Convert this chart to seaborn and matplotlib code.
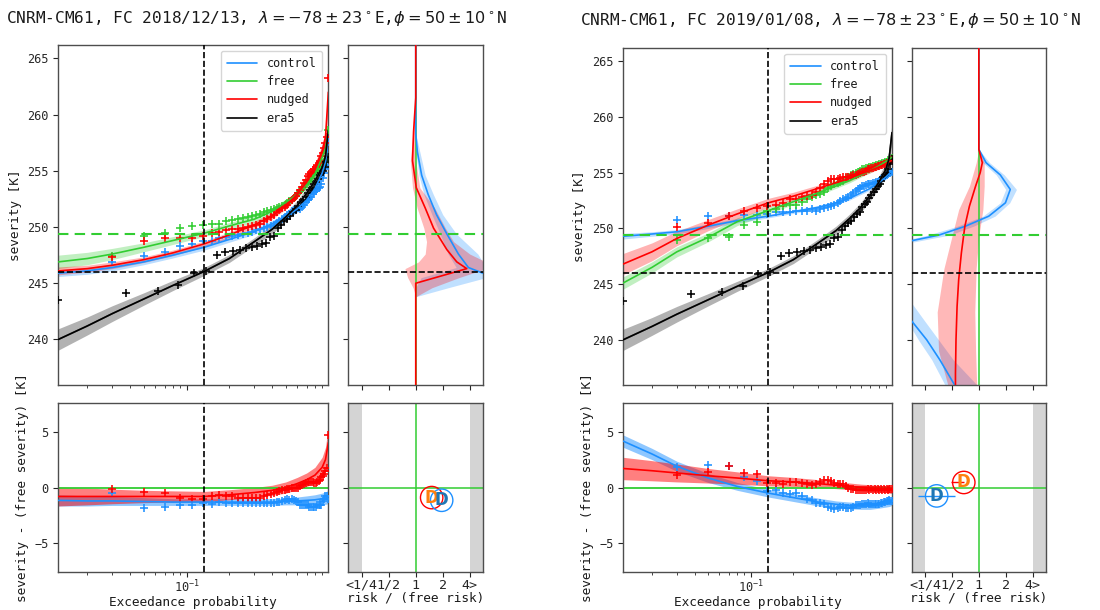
import matplotlib
matplotlib.use("Agg")
import matplotlib.pyplot as plt
import numpy as np
import seaborn as sns

# ---- colours -------------------------------------------------------------
C_CONTROL = "#1e90ff"
C_FREE = "#32cd32"
C_NUDGED = "#ff0000"
C_ERA5 = "#000000"

# ---- shared values --------------------------------------------------------
P_LIM = (0.0125, 0.995)
EVENT_P = 0.133
EVENT_SEV = 246.0
FREE_EVENT_SEV = 249.4
SEV_LIM = (235.95, 266.2)
DIFF_LIM = (-7.55, 7.55)
RR_TICKS = [-2, -1, 0, 1, 2]
RR_LABELS = ["<1/4", "1/2", "1", "2", "4>"]

# plotting positions of the sorted samples
P_MODEL = [0.03, 0.05, 0.07, 0.09, 0.11, 0.13, 0.15, 0.17, 0.19, 0.21,
           0.23, 0.25, 0.27, 0.29, 0.31, 0.33, 0.35, 0.37, 0.39, 0.41,
           0.43, 0.45, 0.47, 0.49, 0.51, 0.53, 0.55, 0.57, 0.59, 0.61,
           0.63, 0.65, 0.67, 0.69, 0.71, 0.73, 0.75, 0.77, 0.79, 0.81,
           0.83, 0.85, 0.87, 0.89, 0.91, 0.93, 0.95, 0.97, 0.99]
P_ERA5 = [0.0125, 0.0375, 0.0625, 0.0875, 0.1125, 0.1375, 0.1625, 0.1875,
          0.2125, 0.2375, 0.2625, 0.2875, 0.3125, 0.3375, 0.3625, 0.3875,
          0.4125, 0.4375, 0.4625, 0.4875, 0.5125, 0.5375, 0.5625, 0.5875,
          0.6125, 0.6375, 0.6625, 0.6875, 0.7125, 0.7375, 0.7625, 0.7875,
          0.8125, 0.8375, 0.8625, 0.8875, 0.9125, 0.9375, 0.9625, 0.9875]
ERA5_PTS = [243.5, 244.1, 244.3, 244.8, 245.9, 246.1, 247.5, 247.8, 247.9, 248.0,
            248.1, 248.2, 248.3, 248.5, 248.6, 249.1, 249.2, 249.9, 250.2, 250.5,
            250.7, 251.0, 251.3, 251.5, 251.9, 252.2, 252.4, 252.7, 253.0, 253.3,
            253.5, 253.8, 254.0, 254.3, 254.6, 254.8, 255.0, 255.3, 255.8, 256.2]

# fitted curves, read on this probability grid
P_GRID = [0.0125, 0.02, 0.03, 0.05, 0.08, 0.133, 0.2, 0.3, 0.4, 0.5,
          0.6, 0.7, 0.8, 0.9, 0.95, 0.995]
ERA5_FIT = [240.0, 241.2, 242.3, 243.6, 244.8, 246.05, 247.2, 248.7, 249.8, 250.9,
            251.9, 253.0, 254.1, 255.3, 256.3, 258.6]
ERA5_HW = [0.95, 0.8, 0.7, 0.55, 0.45, 0.35, 0.35, 0.35, 0.4, 0.4,
           0.45, 0.5, 0.55, 0.6, 0.7, 0.9]

# ---- forecast 2018/12/13 ---------------------------------------------------
L_TITLE = r"CNRM-CM61, FC 2018/12/13, $\lambda=-78\pm23^\circ$E,$\phi=50\pm10^\circ$N"

L_FREE_PTS = [247.4, 249.2, 249.5, 249.9, 250.1, 250.2, 250.3, 250.3, 250.5, 250.6,
              250.7, 250.8, 250.9, 251.0, 251.1, 251.2, 251.3, 251.4, 251.5, 251.6,
              251.7, 251.8, 251.9, 252.0, 252.1, 252.3, 252.4, 252.6, 252.8, 253.0,
              253.2, 253.4, 253.6, 253.8, 254.0, 254.2, 254.4, 254.6, 254.8, 254.9,
              255.0, 255.1, 255.2, 255.4, 255.6, 255.8, 256.0, 256.3, 258.6]
L_NUDGED_PTS = [247.3, 248.8, 249.0, 249.0, 249.05, 249.2, 249.5, 249.6, 249.7, 249.8,
                249.8, 249.9, 250.0, 250.1, 250.2, 250.3, 250.5, 250.7, 250.9, 251.1,
                251.3, 251.5, 251.7, 251.8, 252.0, 252.2, 252.4, 252.6, 252.8, 253.0,
                253.3, 253.6, 253.9, 254.2, 254.5, 254.7, 254.9, 255.1, 255.2, 255.3,
                255.5, 255.7, 255.9, 256.3, 256.6, 257.0, 257.5, 258.0, 263.3]
L_CONTROL_PTS = [246.9, 247.4, 247.8, 248.3, 248.5, 248.8, 248.8, 249.0, 249.1, 249.2,
                 249.3, 249.4, 249.5, 249.6, 249.7, 249.8, 249.9, 250.0, 250.1, 250.2,
                 250.4, 250.5, 250.7, 250.9, 251.1, 251.2, 251.4, 251.5, 251.6, 251.7,
                 251.6, 251.8, 252.0, 252.2, 252.4, 252.5, 252.7, 252.9, 253.1, 253.2,
                 253.4, 253.5, 253.6, 253.8, 254.4, 254.8, 255.2, 255.5, 257.6]

L_FREE_FIT = [246.9, 247.2, 247.6, 248.2, 248.8, 249.45, 250.1, 250.7, 251.4, 252.2,
              252.9, 253.8, 254.7, 256.2, 257.0, 258.6]
L_FREE_HW = [0.6, 0.55, 0.5, 0.4, 0.35, 0.3, 0.3, 0.3, 0.3, 0.3,
             0.3, 0.35, 0.35, 0.4, 0.45, 0.6]
L_NUDGED_FIT = [246.1, 246.3, 246.6, 247.1, 247.7, 248.5, 249.3, 250.2, 251.0, 251.9,
                252.9, 254.0, 255.2, 256.8, 258.0, 262.0]
L_NUDGED_HW = [0.35, 0.3, 0.3, 0.25, 0.25, 0.25, 0.25, 0.3, 0.3, 0.3,
               0.35, 0.4, 0.45, 0.55, 0.7, 1.2]
L_CONTROL_FIT = [245.9, 246.1, 246.4, 246.9, 247.5, 248.2, 248.9, 249.6, 250.3, 250.9,
                 251.6, 252.4, 253.4, 254.8, 255.8, 257.5]
L_CONTROL_HW = [0.3, 0.3, 0.3, 0.25, 0.25, 0.25, 0.25, 0.25, 0.3, 0.3,
                0.3, 0.35, 0.4, 0.5, 0.6, 0.8]

L_NUDGED_DIFF = [-0.8, -0.8, -0.8, -0.8, -0.8, -0.8, -0.65, -0.45, -0.25, 0.0,
                 0.35, 0.7, 1.1, 1.8, 2.5, 4.0]
L_NUDGED_DIFF_HW = [0.85, 0.75, 0.65, 0.55, 0.5, 0.45, 0.45, 0.45, 0.45, 0.5,
                    0.55, 0.6, 0.7, 0.9, 1.1, 1.5]
L_CONTROL_DIFF = [-1.15, -1.2, -1.2, -1.25, -1.3, -1.3, -1.3, -1.3, -1.3, -1.25,
                  -1.2, -1.15, -1.1, -1.0, -0.95, -0.85]
L_CONTROL_DIFF_HW = [0.5, 0.45, 0.4, 0.35, 0.3, 0.3, 0.3, 0.3, 0.3, 0.3,
                     0.35, 0.4, 0.45, 0.5, 0.55, 0.6]

# log2 risk ratio vs severity
L_RR_NUDGED_SEV = [266.2, 261.5, 258.5, 255.9, 253.5, 251.7, 249.9, 248.0, 246.9, 246.3, 245.0, 235.9]
L_RR_NUDGED = [0.0, 0.0, -0.08, -0.12, 0.02, 0.35, 0.66, 1.15, 1.52, 1.89, 0.0, 0.0]
L_RR_NUDGED_BAND_SEV = [261.5, 258.5, 255.9, 253.5, 251.7, 249.9, 248.7, 247.6, 246.9, 246.3, 245.5, 244.6, 243.8]
L_RR_NUDGED_LO = [0.0, -0.1, -0.2, -0.12, 0.05, 0.3, 0.4, 0.35, 0.1, -0.4, -0.3, -0.1, 0.0]
L_RR_NUDGED_HI = [0.0, 0.0, 0.0, 0.15, 0.7, 1.1, 1.4, 2.0, 2.6, 2.6, 1.6, 0.6, 0.0]
L_RR_CONTROL_SEV = [266.2, 258.3, 256.7, 254.6, 252.9, 251.1, 249.4, 247.6, 246.4, 245.6]
L_RR_CONTROL = [0.0, 0.0, 0.06, 0.22, 0.46, 0.77, 1.15, 1.58, 1.95, 2.8]
L_RR_CONTROL_BAND_SEV = [258.3, 256.7, 254.6, 252.9, 251.1, 249.4, 247.6, 246.4, 245.5, 244.6, 243.8]
L_RR_CONTROL_LO = [0.0, 0.0, 0.12, 0.3, 0.6, 0.9, 1.2, 1.5, 0.2, 0.0, 0.0]
L_RR_CONTROL_HI = [0.0, 0.15, 0.35, 0.65, 1.0, 1.5, 2.3, 2.6, 2.6, 1.2, 0.0]

# risk ratio / severity difference at the event
L_EVT_RR = {"nudged": 0.59, "control": 0.96}
L_EVT_DIFF = {"nudged": -0.90, "control": -1.14}
L_EVT_RR_ERR = {"nudged": (0.0, 0.0), "control": (0.0, 0.0)}

# ---- forecast 2019/01/08 ---------------------------------------------------
R_TITLE = r"CNRM-CM61, FC 2019/01/08, $\lambda=-78\pm23^\circ$E,$\phi=50\pm10^\circ$N"

R_FREE_PTS = [249.0, 249.1, 249.2, 250.3, 250.6, 251.6, 251.7, 252.0, 252.1, 252.1,
              252.4, 252.6, 252.8, 253.0, 253.1, 253.3, 253.6, 253.8, 254.0, 254.1,
              254.2, 254.3, 254.5, 254.6, 254.8, 254.9, 255.0, 255.1, 255.2, 255.3,
              255.3, 255.4, 255.4, 255.5, 255.5, 255.6, 255.6, 255.7, 255.7, 255.8,
              255.8, 255.9, 255.9, 256.0, 256.0, 256.1, 256.1, 256.2, 256.3]
R_NUDGED_PTS = [250.1, 250.5, 251.1, 251.6, 251.8, 252.0, 252.1, 252.3, 252.6, 252.6,
                252.8, 252.9, 253.0, 253.3, 253.6, 254.0, 254.3, 254.4, 254.4, 254.4,
                254.5, 254.6, 254.6, 254.6, 254.7, 254.8, 254.8, 254.9, 255.0, 255.1,
                255.1, 255.2, 255.3, 255.3, 255.4, 255.4, 255.5, 255.5, 255.6, 255.6,
                255.7, 255.7, 255.8, 255.8, 255.9, 255.9, 256.0, 256.1, 256.2]
R_CONTROL_PTS = [250.8, 251.1, 251.1, 251.2, 251.2, 251.3, 251.5, 251.5, 251.5, 251.6,
                 251.6, 251.6, 251.7, 251.6, 251.7, 251.8, 251.9, 252.0, 252.1, 252.3,
                 252.5, 252.6, 252.7, 252.8, 253.0, 253.2, 253.4, 253.5, 253.6, 253.8,
                 253.8, 253.9, 254.0, 254.0, 254.0, 254.1, 254.1, 254.2, 254.2, 254.3,
                 254.4, 254.5, 254.6, 254.7, 254.8, 254.9, 255.0, 255.0, 255.1]

R_FREE_FIT = [245.1, 246.5, 247.9, 249.2, 250.6, 251.6, 252.4, 253.2, 253.8, 254.3,
              254.8, 255.2, 255.6, 256.0, 256.2, 256.4]
R_FREE_HW = [0.55, 0.5, 0.45, 0.4, 0.35, 0.3, 0.25, 0.25, 0.2, 0.2,
             0.2, 0.2, 0.2, 0.2, 0.25, 0.3]
R_NUDGED_FIT = [246.8, 247.9, 249.1, 250.3, 251.3, 252.3, 252.9, 253.6, 254.1, 254.5,
                254.9, 255.2, 255.5, 255.8, 256.0, 256.1]
R_NUDGED_HW = [0.95, 0.8, 0.65, 0.5, 0.45, 0.4, 0.35, 0.3, 0.25, 0.25,
               0.2, 0.2, 0.2, 0.2, 0.2, 0.25]
R_CONTROL_FIT = [249.3, 249.5, 249.7, 250.2, 250.7, 251.1, 251.5, 251.9, 252.3, 252.7,
                 253.2, 253.6, 254.1, 254.6, 254.9, 255.2]
R_CONTROL_HW = [0.25, 0.2, 0.2, 0.2, 0.2, 0.15, 0.15, 0.15, 0.15, 0.15,
                0.15, 0.15, 0.2, 0.2, 0.2, 0.25]

R_NUDGED_DIFF = [1.7, 1.5, 1.3, 1.05, 0.85, 0.6, 0.5, 0.35, 0.2, 0.1,
                 0.0, -0.05, -0.1, -0.15, -0.2, -0.25]
R_NUDGED_DIFF_HW = [1.0, 0.9, 0.8, 0.65, 0.55, 0.45, 0.4, 0.35, 0.3, 0.3,
                    0.3, 0.3, 0.3, 0.3, 0.3, 0.3]
R_CONTROL_DIFF = [4.15, 3.0, 1.9, 0.85, 0.1, -0.5, -0.9, -1.3, -1.5, -1.6,
                  -1.65, -1.65, -1.55, -1.45, -1.4, -1.3]
R_CONTROL_DIFF_HW = [0.55, 0.5, 0.45, 0.4, 0.35, 0.35, 0.35, 0.35, 0.3, 0.3,
                     0.3, 0.3, 0.3, 0.3, 0.3, 0.3]

R_RR_NUDGED_SEV = [266.2, 257.1, 255.9, 255.0, 253.8, 252.0, 250.2, 247.8, 245.4, 243.0, 240.0, 237.0, 235.9]
R_RR_NUDGED = [0.0, 0.0, 0.13, 0.05, -0.12, -0.35, -0.52, -0.65, -0.75, -0.81, -0.85, -0.87, -0.87]
R_RR_NUDGED_BAND_SEV = [257.1, 255.9, 253.8, 251.7, 249.3, 246.4, 242.5, 239.0, 235.9]
R_RR_NUDGED_LO = [0.0, -0.1, -0.35, -0.75, -1.0, -1.3, -1.55, -1.5, -1.15]
R_RR_NUDGED_HI = [0.0, 0.2, 0.2, 0.15, 0.0, -0.1, -0.15, -0.12, -0.08]
R_RR_CONTROL_SEV = [266.2, 257.1, 255.9, 254.8, 253.5, 252.3, 251.1, 250.2, 249.4, 248.8]
R_RR_CONTROL = [0.0, 0.0, 0.27, 0.80, 1.17, 0.99, 0.37, -0.5, -1.49, -2.7]
R_RR_CONTROL_BAND_SEV = R_RR_CONTROL_SEV
R_RR_CONTROL_LO = [0.0, 0.0, 0.15, 0.65, 1.0, 0.8, 0.15, -0.8, -1.9, -3.0]
R_RR_CONTROL_HI = [0.0, 0.0, 0.4, 0.95, 1.4, 1.15, 0.6, -0.2, -1.1, -2.4]
R_RR_CONTROL2_SEV = [242.6, 240.0, 238.2, 235.9]
R_RR_CONTROL2 = [-2.8, -1.94, -1.45, -0.89]
R_RR_CONTROL2_BAND_SEV = [243.3, 241.8, 240.0, 238.2, 235.9]
R_RR_CONTROL2_LO = [-2.6, -2.7, -2.25, -1.75, -1.25]
R_RR_CONTROL2_HI = [-2.5, -2.05, -1.5, -0.95, -0.05]

R_EVT_RR = {"nudged": -0.56, "control": -1.57}
R_EVT_DIFF = {"nudged": 0.45, "control": -0.75}
R_EVT_RR_ERR = {"nudged": (0.48, 0.0), "control": (0.68, 0.68)}

D_COLORS = {"nudged": "#ff7f0e", "control": "#1f77b4"}


def band_line(ax, x, y, hw, color, alpha, label=None):
    y = np.asarray(y)
    hw = np.asarray(hw)
    ax.fill_between(x, y - hw, y + hw, color=color, alpha=alpha, lw=0, zorder=1)
    sns.lineplot(x=x, y=y, color=color, lw=1.2, estimator=None, sort=False,
                 label=label, legend=False, ax=ax, zorder=4)


def plus_points(ax, x, y, color):
    sns.scatterplot(x=x, y=y, marker="+", color=color, s=32, linewidth=1.15,
                    legend=False, ax=ax, zorder=3)


def rr_curve(ax, sev, rr, band_sev, lo, hi, color):
    ax.fill_betweenx(band_sev, lo, hi, color=color, alpha=0.28, lw=0, zorder=1)
    sns.lineplot(x=rr, y=sev, color=color, lw=1.2, estimator=None, sort=False,
                 orient="y", legend=False, ax=ax, zorder=4)


def draw_group(fig, x0, main_w, small_x0, small_w, main_h, d):
    ax_main = fig.add_axes([x0, 0.3689, main_w, main_h])
    ax_rr = fig.add_axes([small_x0, 0.3689, small_w, main_h])
    ax_diff = fig.add_axes([x0, 0.0623, main_w, 0.2770])
    ax_evt = fig.add_axes([small_x0, 0.0623, small_w, 0.2770])

    # ---- severity vs exceedance probability
    ax = ax_main
    ax.set_xscale("log")
    band_line(ax, P_GRID, d["control_fit"], d["control_hw"], C_CONTROL, 0.3, "control")
    band_line(ax, P_GRID, d["free_fit"], d["free_hw"], C_FREE, 0.3, "free")
    band_line(ax, P_GRID, d["nudged_fit"], d["nudged_hw"], C_NUDGED, 0.3, "nudged")
    band_line(ax, P_GRID, ERA5_FIT, ERA5_HW, "0.4", 0.5, None)
    plus_points(ax, P_MODEL, d["control_pts"], C_CONTROL)
    plus_points(ax, P_MODEL, d["free_pts"], C_FREE)
    plus_points(ax, P_MODEL, d["nudged_pts"], C_NUDGED)
    plus_points(ax, P_ERA5, ERA5_PTS, C_ERA5)
    sns.lineplot(x=P_GRID, y=ERA5_FIT, color=C_ERA5, lw=1.2, estimator=None,
                 sort=False, label="era5", legend=False, ax=ax, zorder=4)
    ax.axvline(EVENT_P, color="k", ls="--", lw=1.2, zorder=5)
    ax.axhline(EVENT_SEV, color="k", ls="--", lw=1.2, zorder=5)
    ax.axhline(FREE_EVENT_SEV, color=C_FREE, ls="--", lw=1.5, dashes=(5, 3), zorder=5)
    ax.set_xlim(*P_LIM)
    ax.set_ylim(*SEV_LIM)
    ax.set_yticks([240, 245, 250, 255, 260, 265])
    ax.tick_params(axis="x", which="both", labelbottom=False)
    ax.set_ylabel("severity [K]")
    handles, labels = ax.get_legend_handles_labels()
    order = ["control", "free", "nudged", "era5"]
    hmap = dict(zip(labels, handles))
    ax.legend([hmap[k] for k in order], order, loc="upper right", fontsize=8.5,
              handlelength=2.6, borderpad=0.5, labelspacing=0.45)

    # ---- risk ratio vs severity
    ax = ax_rr
    rr_curve(ax, d["rr_control_sev"], d["rr_control"], d["rr_control_band_sev"],
             d["rr_control_lo"], d["rr_control_hi"], C_CONTROL)
    if "rr_control2_sev" in d:
        rr_curve(ax, d["rr_control2_sev"], d["rr_control2"], d["rr_control2_band_sev"],
                 d["rr_control2_lo"], d["rr_control2_hi"], C_CONTROL)
    ax.axvline(0, color=C_FREE, lw=1.1, zorder=2)
    rr_curve(ax, d["rr_nudged_sev"], d["rr_nudged"], d["rr_nudged_band_sev"],
             d["rr_nudged_lo"], d["rr_nudged_hi"], C_NUDGED)
    ax.axhline(EVENT_SEV, color="k", ls="--", lw=1.2, zorder=5)
    ax.axhline(FREE_EVENT_SEV, color=C_FREE, ls="--", lw=1.5, dashes=(5, 3), zorder=5)
    ax.set_xlim(-2.5, 2.5)
    ax.set_ylim(*SEV_LIM)
    ax.set_yticks([240, 245, 250, 255, 260, 265])
    ax.set_xticks(RR_TICKS)
    ax.tick_params(labelleft=False, labelbottom=False)
    ax.set_xlabel("")
    ax.set_ylabel("")

    # ---- severity difference to free
    ax = ax_diff
    ax.set_xscale("log")
    band_line(ax, P_GRID, d["control_diff"], d["control_diff_hw"], C_CONTROL, 0.5)
    band_line(ax, P_GRID, d["nudged_diff"], d["nudged_diff_hw"], C_NUDGED, 0.5)
    free = np.asarray(d["free_pts"])
    plus_points(ax, P_MODEL, np.asarray(d["control_pts"]) - free, C_CONTROL)
    plus_points(ax, P_MODEL, np.asarray(d["nudged_pts"]) - free, C_NUDGED)
    ax.axhline(0, color=C_FREE, lw=1.3, zorder=2)
    ax.axvline(EVENT_P, color="k", ls="--", lw=1.2, zorder=5)
    ax.set_xlim(*P_LIM)
    ax.set_ylim(*DIFF_LIM)
    ax.set_yticks([-5, 0, 5])
    ax.set_xlabel("Exceedance probability", labelpad=0)
    ax.set_ylabel("severity - (free severity) [K]")

    # ---- event point: risk ratio and severity difference
    ax = ax_evt
    ax.axvspan(-2.5, RR_TICKS[0], color="0.83", lw=0, zorder=0)
    ax.axvspan(RR_TICKS[-1], 2.5, color="0.83", lw=0, zorder=0)
    ax.axhline(0, color=C_FREE, lw=1.1, zorder=1)
    ax.axvline(0, color=C_FREE, lw=1.1, zorder=1)
    for key, ring in (("nudged", C_NUDGED), ("control", C_CONTROL)):
        x, y = d["evt_rr"][key], d["evt_diff"][key]
        lo, hi = d["evt_rr_err"][key]
        if lo or hi:
            ax.errorbar([x], [y], xerr=[[lo], [hi]], fmt="none", ecolor=ring,
                        elinewidth=1, zorder=2)
        ax.scatter([x], [y], s=260, facecolors="none", edgecolors=ring,
                   linewidths=1.0, zorder=3)
        ax.text(x, y, "D", color=D_COLORS[key], fontsize=12, fontweight="bold",
                family="DejaVu Sans", ha="center", va="center", zorder=4)
    ax.set_xlim(-2.5, 2.5)
    ax.set_ylim(*DIFF_LIM)
    ax.set_yticks([-5, 0, 5])
    ax.set_xticks(RR_TICKS)
    ax.set_xticklabels(RR_LABELS, fontsize=9.6)
    ax.tick_params(labelleft=False)
    ax.set_xlabel("risk / (free risk)", labelpad=0)


def main():
    sns.set_style("ticks", {"axes.edgecolor": "0.3", "xtick.color": "0.15",
                            "ytick.color": "0.15", "text.color": "0.1",
                            "axes.labelcolor": "0.1"})
    plt.rcParams["font.family"] = ["DejaVu Sans Mono", "DejaVu Sans"]
    plt.rcParams.update({
        "axes.labelsize": 9.2,
        "xtick.labelsize": 8.6,
        "ytick.labelsize": 8.6,
        "axes.linewidth": 1.0,
        "xtick.major.size": 3.5,
        "ytick.major.size": 3.5,
        "xtick.minor.size": 2.0,
        "xtick.major.pad": 1.5,
        "ytick.major.pad": 3.5,
        "xtick.major.width": 0.8,
        "ytick.major.width": 0.8,
        "xtick.minor.width": 0.6,
    })

    fig = plt.figure(figsize=(11, 6.1), dpi=100)

    left = dict(
        free_pts=L_FREE_PTS, nudged_pts=L_NUDGED_PTS, control_pts=L_CONTROL_PTS,
        free_fit=L_FREE_FIT, free_hw=L_FREE_HW,
        nudged_fit=L_NUDGED_FIT, nudged_hw=L_NUDGED_HW,
        control_fit=L_CONTROL_FIT, control_hw=L_CONTROL_HW,
        nudged_diff=L_NUDGED_DIFF, nudged_diff_hw=L_NUDGED_DIFF_HW,
        control_diff=L_CONTROL_DIFF, control_diff_hw=L_CONTROL_DIFF_HW,
        rr_nudged_sev=L_RR_NUDGED_SEV, rr_nudged=L_RR_NUDGED,
        rr_nudged_band_sev=L_RR_NUDGED_BAND_SEV, rr_nudged_lo=L_RR_NUDGED_LO,
        rr_nudged_hi=L_RR_NUDGED_HI,
        rr_control_sev=L_RR_CONTROL_SEV, rr_control=L_RR_CONTROL,
        rr_control_band_sev=L_RR_CONTROL_BAND_SEV, rr_control_lo=L_RR_CONTROL_LO,
        rr_control_hi=L_RR_CONTROL_HI,
        evt_rr=L_EVT_RR, evt_diff=L_EVT_DIFF, evt_rr_err=L_EVT_RR_ERR,
    )
    right = dict(
        free_pts=R_FREE_PTS, nudged_pts=R_NUDGED_PTS, control_pts=R_CONTROL_PTS,
        free_fit=R_FREE_FIT, free_hw=R_FREE_HW,
        nudged_fit=R_NUDGED_FIT, nudged_hw=R_NUDGED_HW,
        control_fit=R_CONTROL_FIT, control_hw=R_CONTROL_HW,
        nudged_diff=R_NUDGED_DIFF, nudged_diff_hw=R_NUDGED_DIFF_HW,
        control_diff=R_CONTROL_DIFF, control_diff_hw=R_CONTROL_DIFF_HW,
        rr_nudged_sev=R_RR_NUDGED_SEV, rr_nudged=R_RR_NUDGED,
        rr_nudged_band_sev=R_RR_NUDGED_BAND_SEV, rr_nudged_lo=R_RR_NUDGED_LO,
        rr_nudged_hi=R_RR_NUDGED_HI,
        rr_control_sev=R_RR_CONTROL_SEV, rr_control=R_RR_CONTROL,
        rr_control_band_sev=R_RR_CONTROL_BAND_SEV, rr_control_lo=R_RR_CONTROL_LO,
        rr_control_hi=R_RR_CONTROL_HI,
        rr_control2_sev=R_RR_CONTROL2_SEV, rr_control2=R_RR_CONTROL2,
        rr_control2_band_sev=R_RR_CONTROL2_BAND_SEV, rr_control2_lo=R_RR_CONTROL2_LO,
        rr_control2_hi=R_RR_CONTROL2_HI,
        evt_rr=R_EVT_RR, evt_diff=R_EVT_DIFF, evt_rr_err=R_EVT_RR_ERR,
    )

    draw_group(fig, 0.0530, 0.2455, 0.3166, 0.1227, 0.5574, left)
    draw_group(fig, 0.5664, 0.2445, 0.8288, 0.1221, 0.5525, right)

    fig.text(0.2336, 0.970, L_TITLE, ha="center", va="center", fontsize=11.6)
    fig.text(0.7555, 0.967, R_TITLE, ha="center", va="center", fontsize=11.6)

    fig.savefig("out.png", dpi=100)


if __name__ == "__main__":
    main()
